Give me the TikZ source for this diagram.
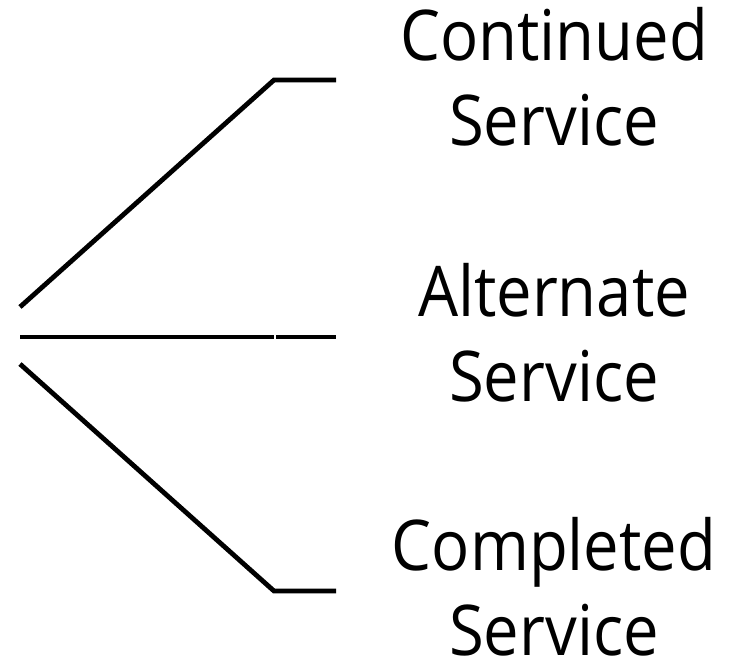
\documentclass[tikz,border=0pt]{standalone}
\usepackage{fontspec}
\setmainfont[FakeStretch=0.905]{Open Sans}
\usetikzlibrary{positioning}

\begin{document}
\begin{tikzpicture}[x=0.5pt,y=-0.5pt]
\tikzstyle {branch}=[line width=2.4pt,line join=miter]
\tikzstyle {lbl}=[align=center,inner sep=0pt,font=\fontsize{35}{42.5}\selectfont]
\useasboundingbox (0,0) rectangle (748,665);
% branch points
\coordinate (up0) at (20,307);
\coordinate (upk) at (274,80);
\coordinate (upe) at (336,80);
\coordinate (mid0) at (20,337);
\coordinate (midk) at (274,337);
\coordinate (midk2) at (276,337);
\coordinate (mide) at (336,337);
\coordinate (dn0) at (20,364);
\coordinate (dnk) at (274,591);
\coordinate (dne) at (336,591);
% labels
\node (cont) [lbl] at (554,77) {Continued\\Service};
\node (alt) [lbl] at (554,333) {Alternate\\Service};
\node (comp) [lbl] at (554,587) {Completed\\Service};
% lines
\draw [branch] (up0) -- (upk) -- (upe);
\draw [branch] (mid0) -- (midk);
\draw [branch] (midk2) -- (mide);
\draw [branch] (dn0) -- (dnk) -- (dne);
\end{tikzpicture}
\end{document}
